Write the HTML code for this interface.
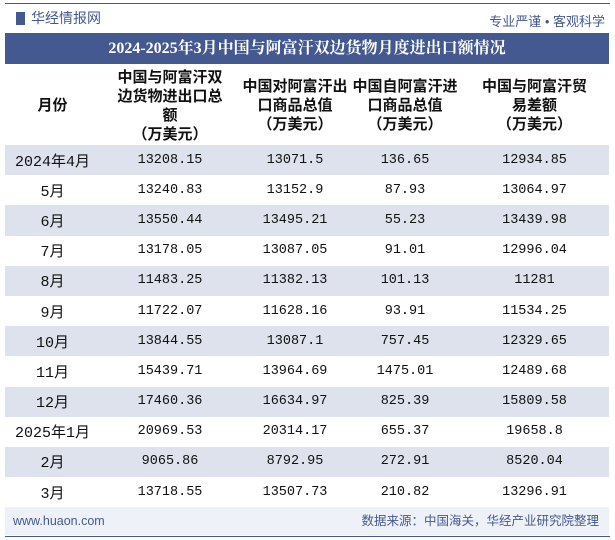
<!DOCTYPE html>
<html><head><meta charset="utf-8"><style>
body{margin:0;width:615px;height:540px;background:#fff;font-family:"Liberation Sans","Noto Sans CJK SC",sans-serif;position:relative;overflow:hidden}
.top{position:absolute;left:5px;right:5px;top:3px;height:1px;background:#44598f}
.logo{position:absolute;left:16px;top:8px;font-size:14px;color:#44598f}
.slogan{position:absolute;right:10px;top:11px;font-size:13px;color:#44598f}
.title{position:absolute;left:5px;top:33px;width:604px;height:31px;background:#44598f;color:#fff;font-weight:bold;font-size:16px;text-align:center;line-height:31px;font-family:"Liberation Serif","Noto Serif CJK SC",serif}
table{position:absolute;left:5px;top:64px;width:604px;border-collapse:collapse}
th{font-size:15px;font-weight:bold;line-height:19px;height:81px;padding:0;color:#111;font-family:"Noto Sans CJK SC",sans-serif}
td{height:30.2px;padding:0;text-align:center;font-size:13.5px;font-family:"Liberation Mono","Noto Sans CJK SC",monospace;color:#111}
td:first-child{font-size:15px}
tr.s td{background:#dde2ec}
.foot{position:absolute;left:5px;top:507px;width:604px;height:28px;background:#eef1f7;font-size:12.5px;color:#44598f;line-height:28px}
.bl{position:absolute;left:5px;right:5px;top:536px;height:1px;background:#44598f}
</style></head><body>
<div class="top"></div>
<div class="logo"><span style="display:inline-block;width:9px;height:13px;background:#44598f;vertical-align:-2px;margin-right:6px"></span>华经情报网</div>
<div class="slogan">专业严谨 • 客观科学</div>
<div class="title">2024-2025年3月中国与阿富汗双边货物月度进出口额情况</div>
<table>
<colgroup><col style="width:95px"><col style="width:140px"><col style="width:110px"><col style="width:110px"><col style="width:149px"></colgroup>
<tr><th>月份</th><th>中国与阿富汗双<br>边货物进出口总<br>额<br>（万美元）</th><th>中国对阿富汗出<br>口商品总值<br>（万美元）</th><th>中国自阿富汗进<br>口商品总值<br>（万美元）</th><th>中国与阿富汗贸<br>易差额<br>（万美元）</th></tr>
<tr class="s"><td>2024年4月</td><td>13208.15</td><td>13071.5</td><td>136.65</td><td>12934.85</td></tr>
<tr><td>5月</td><td>13240.83</td><td>13152.9</td><td>87.93</td><td>13064.97</td></tr>
<tr class="s"><td>6月</td><td>13550.44</td><td>13495.21</td><td>55.23</td><td>13439.98</td></tr>
<tr><td>7月</td><td>13178.05</td><td>13087.05</td><td>91.01</td><td>12996.04</td></tr>
<tr class="s"><td>8月</td><td>11483.25</td><td>11382.13</td><td>101.13</td><td>11281</td></tr>
<tr><td>9月</td><td>11722.07</td><td>11628.16</td><td>93.91</td><td>11534.25</td></tr>
<tr class="s"><td>10月</td><td>13844.55</td><td>13087.1</td><td>757.45</td><td>12329.65</td></tr>
<tr><td>11月</td><td>15439.71</td><td>13964.69</td><td>1475.01</td><td>12489.68</td></tr>
<tr class="s"><td>12月</td><td>17460.36</td><td>16634.97</td><td>825.39</td><td>15809.58</td></tr>
<tr><td>2025年1月</td><td>20969.53</td><td>20314.17</td><td>655.37</td><td>19658.8</td></tr>
<tr class="s"><td>2月</td><td>9065.86</td><td>8792.95</td><td>272.91</td><td>8520.04</td></tr>
<tr><td>3月</td><td>13718.55</td><td>13507.73</td><td>210.82</td><td>13296.91</td></tr>
</table>
<div class="foot"><span style="position:absolute;left:8px">www.huaon.com</span><span style="position:absolute;right:10px">数据来源：中国海关，华经产业研究院整理</span></div>
<div class="bl"></div>
</body></html>
